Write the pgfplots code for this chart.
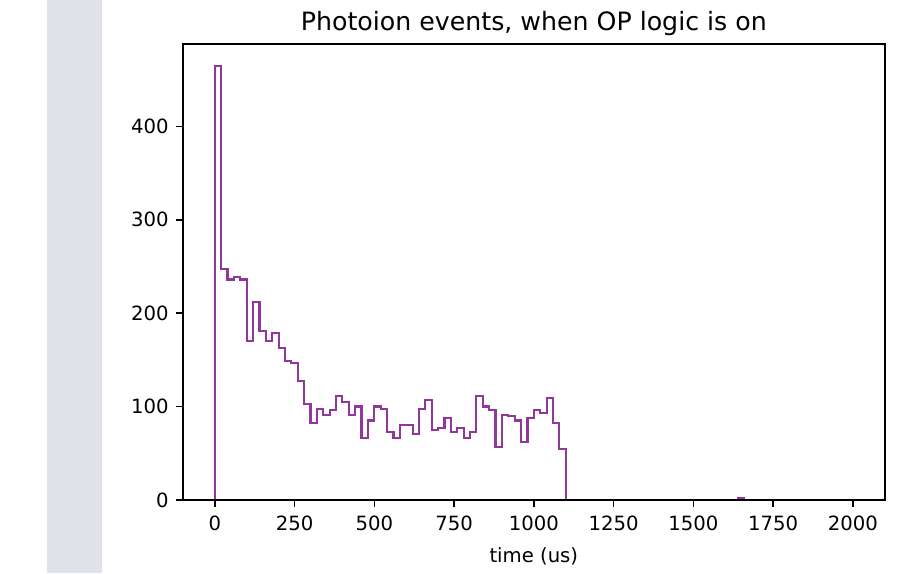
\documentclass[border=0pt]{standalone}
\usepackage{fontspec}
\setmainfont{DejaVu Sans}
\usepackage{pgfplots}
\pgfplotsset{compat=1.18}
\definecolor{histc}{RGB}{145,55,155}
\definecolor{sidebar}{RGB}{223,226,231}
\begin{document}
\begin{tikzpicture}
\path[use as bounding box, fill=white] (0,0) rectangle (466.8pt,291.7pt);
\fill[sidebar] (23.9pt,0) rectangle (51.9pt,291.7pt);
\begin{axis}[
  at={(93.1pt,37.2pt)}, anchor=south west,
  scale only axis, width=357.3pt, height=232.1pt,
  xmin=-100, xmax=2100, ymin=0, ymax=488.25,
  xtick={0,250,...,2000}, ytick={0,100,...,400},
  xtick pos=bottom, ytick pos=left,
  tick align=outside, major tick length=3.5pt,
  tick style={line width=0.8pt, black},
  axis line style={line width=0.8pt},
  /pgf/number format/assume math mode=true,
  /pgf/number format/1000 sep={},
  ticklabel style={font=\fontsize{10}{12}\selectfont},
  xticklabel style={anchor=north, inner sep=0pt, yshift=-4.5pt},
  yticklabel style={anchor=east, inner sep=0pt, xshift=-3.5pt},
  title={Photoion events, when OP logic is on},
  title style={at={(0.5,1)}, anchor=base, yshift=1pt, inner sep=0pt, font=\fontsize{12.85}{15}\selectfont},
  xlabel={time (us)},
  xlabel style={at={(axis description cs:0.5,0)}, anchor=north, yshift=-24pt, inner sep=0pt, font=\fontsize{10}{12}\selectfont},
  axis on top,
]
\addplot[const plot, histc, line width=1.1pt] coordinates {
(0,0) (0,465) (20,247) (40,236) (60,239) (80,236) (100,170) (120,212) (140,181) (160,170) (180,179)
(200,163) (220,149) (240,147) (260,127) (280,103) (300,82) (320,97) (340,91) (360,96) (380,111)
(400,105) (420,91) (440,100) (460,66) (480,85) (500,100) (520,97) (540,73) (560,66) (580,80)
(600,80) (620,71) (640,97) (660,107) (680,75) (700,77) (720,88) (740,73) (760,77) (780,66)
(800,73) (820,111) (840,100) (860,96) (880,57) (900,91) (920,90) (940,85) (960,62) (980,88)
(1000,96) (1020,93) (1040,109) (1060,82) (1080,55) (1100,0) (1640,2) (1660,0) (2000,0)
};
\end{axis}
\end{tikzpicture}
\end{document}
